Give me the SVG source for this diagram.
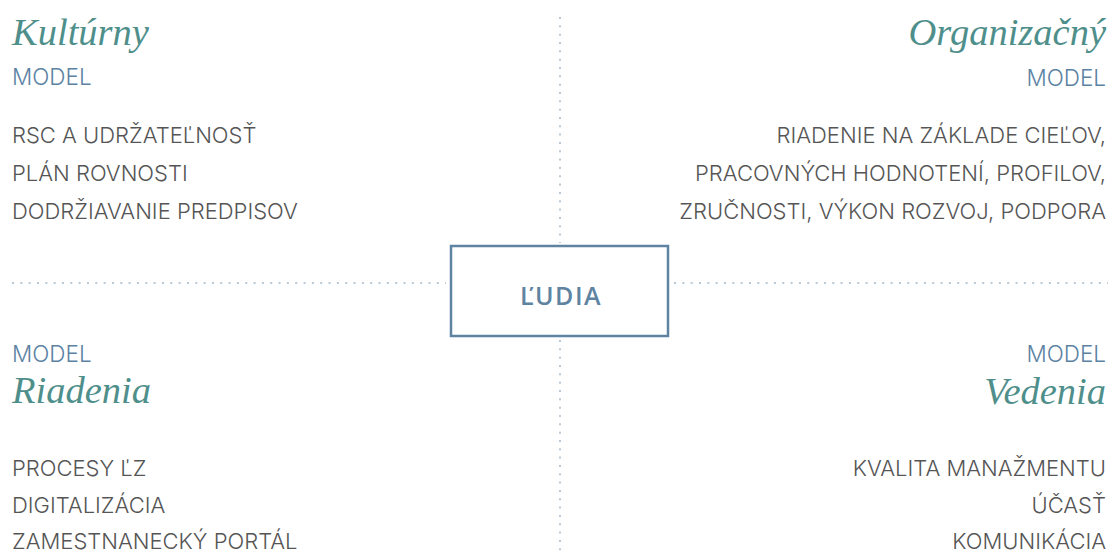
<svg xmlns="http://www.w3.org/2000/svg" width="1111" height="553" viewBox="0 0 1111 553">
<style>
.title{font-family:"Liberation Serif","DejaVu Serif",serif;font-style:italic;font-size:38.5px;fill:#4f8f8b}
.model{font-family:Inter,"Liberation Sans",sans-serif;font-weight:300;font-size:22.5px;fill:#5b82a3}
.body{font-family:Inter,"Liberation Sans",sans-serif;font-weight:300;font-size:22px;fill:#555555}
.r{text-anchor:end}
.dots{stroke:#b9c9d8;stroke-width:2;stroke-dasharray:2 6.33;fill:none}
.box{fill:#ffffff;stroke:#5f84a2;stroke-width:2.5}
.center{font-family:"Open Sans","Liberation Sans",sans-serif;font-weight:600;font-size:25px;fill:#5f84a2;letter-spacing:1.5px;text-anchor:middle}
</style>
<g id="connectors">
<line class="dots" x1="12" y1="283" x2="446" y2="283"/>
<line class="dots" x1="674" y1="283" x2="1108" y2="283"/>
<line class="dots" x1="560" y1="17" x2="560" y2="243"/>
<line class="dots" x1="560" y1="340" x2="560" y2="553"/>
</g>
<g id="node-ludia">
<rect class="box" x="451" y="246" width="217" height="90"/>
<text class="center" x="561" y="305">ĽUDIA</text>
</g>
<g id="node-kulturny">
<text class="title" x="12" y="45">Kultúrny</text>
<text class="model" x="12" y="85">MODEL</text>
<text class="body" x="12" y="143">RSC A UDRŽATEĽNOSŤ</text>
<text class="body" x="12" y="181">PLÁN ROVNOSTI</text>
<text class="body" x="12" y="219">DODRŽIAVANIE PREDPISOV</text>
</g>
<g id="node-organizacny">
<text class="title r" x="1106" y="45">Organizačný</text>
<text class="model r" x="1106" y="86">MODEL</text>
<text class="body r" x="1106" y="143">RIADENIE NA ZÁKLADE CIEĽOV,</text>
<text class="body r" x="1106" y="181">PRACOVNÝCH HODNOTENÍ, PROFILOV,</text>
<text class="body r" x="1106" y="219">ZRUČNOSTI, VÝKON ROZVOJ, PODPORA</text>
</g>
<g id="node-riadenia">
<text class="model" x="12" y="362">MODEL</text>
<text class="title" x="12" y="403">Riadenia</text>
<text class="body" x="12" y="476">PROCESY ĽZ</text>
<text class="body" x="12" y="513">DIGITALIZÁCIA</text>
<text class="body" x="12" y="549">ZAMESTNANECKÝ PORTÁL</text>
</g>
<g id="node-vedenia">
<text class="model r" x="1106" y="362">MODEL</text>
<text class="title r" x="1106" y="404">Vedenia</text>
<text class="body r" x="1106" y="476">KVALITA MANAŽMENTU</text>
<text class="body r" x="1106" y="513">ÚČASŤ</text>
<text class="body r" x="1106" y="549">KOMUNIKÁCIA</text>
</g>
</svg>
